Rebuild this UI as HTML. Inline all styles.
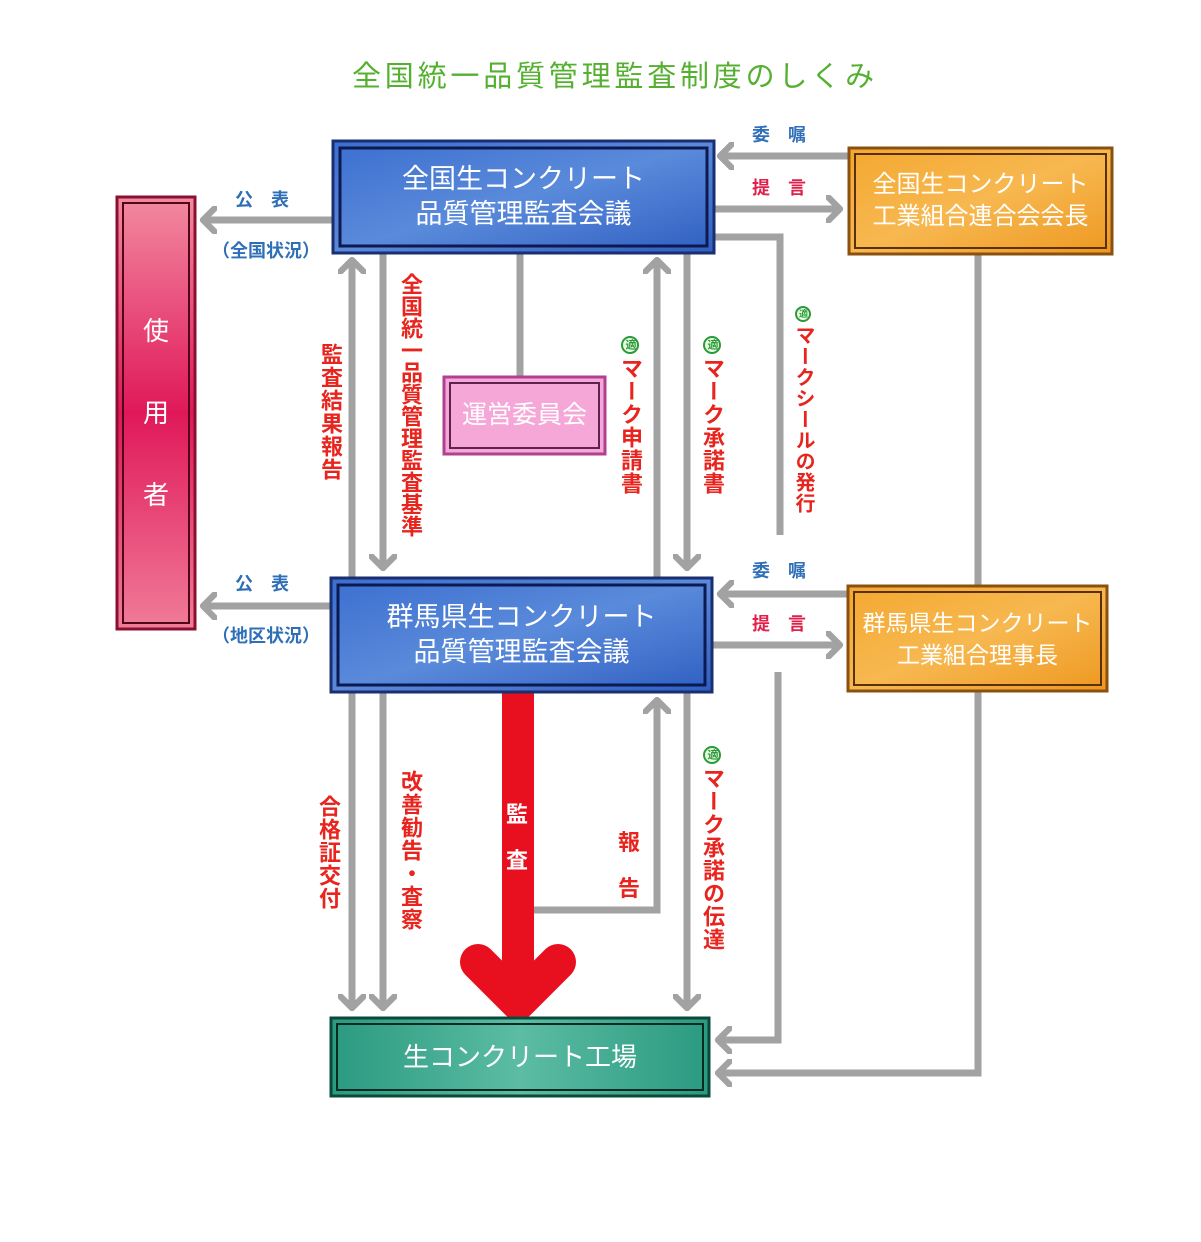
<!DOCTYPE html>
<html><head><meta charset="utf-8"><style>
body{margin:0;width:1201px;height:1242px;background:#fff;position:relative;overflow:hidden;font-family:"Liberation Sans","Noto Sans CJK JP",sans-serif}
.a{position:absolute;white-space:nowrap}
.v{position:absolute;writing-mode:vertical-rl;color:#e8241e;font-weight:bold;font-size:22px;line-height:24px;letter-spacing:1px}
.bl{color:#2f6fb8;font-weight:bold;font-size:18px}
.rd{color:#e0204a;font-weight:bold;font-size:18px}
.box{position:absolute;box-sizing:border-box;color:#fff;text-align:center;display:flex;align-items:center;justify-content:center;flex-direction:column;font-size:27px;line-height:35px}
.tk{display:inline-block;width:18px;height:18px;border-radius:50%;border:2px solid #2a9a3a;color:#2a9a3a;font-size:11px;line-height:14px;text-align:center;box-sizing:border-box;margin-bottom:3px;background:#eafbe0}
</style></head><body>
<div class="a" style="left:352px;top:53px;font-size:29px;color:#55b030;letter-spacing:3.8px">全国統一品質管理監査制度のしくみ</div>

<svg width="1201" height="1242" style="position:absolute;left:0;top:0">
<defs>
<marker id="ah" markerWidth="4" markerHeight="4" refX="2" refY="2" orient="auto" markerUnits="strokeWidth"><path d="M0.3,0.3 L2,2 L0.3,3.7" fill="none" stroke="#a2a2a2" stroke-width="0.9" stroke-linecap="round" stroke-linejoin="round"/></marker>
<linearGradient id="gb" x1="0" y1="0" x2="1" y2="1"><stop offset="0" stop-color="#3b6fd0"/><stop offset="0.5" stop-color="#5a8ada"/><stop offset="1" stop-color="#2f5fc2"/></linearGradient>
<linearGradient id="go" x1="0" y1="0" x2="1" y2="1"><stop offset="0" stop-color="#f4a830"/><stop offset="0.5" stop-color="#f7b850"/><stop offset="1" stop-color="#ee9820"/></linearGradient>
<linearGradient id="gp" x1="0" y1="0" x2="0" y2="1"><stop offset="0" stop-color="#f28aa0"/><stop offset="0.5" stop-color="#e0185a"/><stop offset="1" stop-color="#f07c98"/></linearGradient>
<linearGradient id="gg" x1="0" y1="0" x2="1" y2="0"><stop offset="0" stop-color="#2a9a80"/><stop offset="0.5" stop-color="#5cbca4"/><stop offset="1" stop-color="#2a9a80"/></linearGradient>
</defs>
<g stroke="#a2a2a2" stroke-width="7" fill="none">
<line x1="332" y1="220" x2="203" y2="220" marker-end="url(#ah)"/>
<line x1="330" y1="606" x2="203" y2="606" marker-end="url(#ah)"/>
<line x1="352" y1="577" x2="352" y2="260" marker-end="url(#ah)"/>
<line x1="383" y1="253" x2="383" y2="568" marker-end="url(#ah)"/>
<line x1="520" y1="253" x2="520" y2="376"/>
<line x1="657" y1="577" x2="657" y2="260" marker-end="url(#ah)"/>
<line x1="687" y1="253" x2="687" y2="568" marker-end="url(#ah)"/>
<polyline points="714,237 780,237 780,535"/>
<line x1="848" y1="156" x2="720" y2="156" marker-end="url(#ah)"/>
<line x1="714" y1="209" x2="840" y2="209" marker-end="url(#ah)"/>
<line x1="978" y1="255" x2="978" y2="585"/>
<line x1="847" y1="594" x2="720" y2="594" marker-end="url(#ah)"/>
<line x1="712" y1="645" x2="840" y2="645" marker-end="url(#ah)"/>
<line x1="352" y1="692" x2="352" y2="1008" marker-end="url(#ah)"/>
<line x1="383" y1="692" x2="383" y2="1008" marker-end="url(#ah)"/>
<polyline points="533,910 657,910 657,700" marker-end="url(#ah)"/>
<line x1="687" y1="692" x2="687" y2="1008" marker-end="url(#ah)"/>
<polyline points="778,672 778,1040 718,1040" marker-end="url(#ah)"/>
<polyline points="978,692 978,1073 718,1073" marker-end="url(#ah)"/>
</g>
<rect x="502" y="690" width="32" height="305" fill="#e8101e"/>
<path d="M478,962 L518,1002 L558,962" fill="none" stroke="#e8101e" stroke-width="36" stroke-linecap="round" stroke-linejoin="round"/>
<rect x="333" y="141" width="381" height="112" fill="url(#gb)" stroke="#1a2e70" stroke-width="3"/>
<rect x="340" y="148" width="367" height="98" fill="none" stroke="#0d1a50" stroke-width="3"/>
<rect x="331" y="578" width="381" height="114" fill="url(#gb)" stroke="#1a2e70" stroke-width="3"/>
<rect x="338" y="585" width="367" height="100" fill="none" stroke="#0d1a50" stroke-width="3"/>
<rect x="849" y="148" width="263" height="106" fill="url(#go)" stroke="#8a5010" stroke-width="3"/>
<rect x="855" y="154" width="251" height="94" fill="none" stroke="#5a3008" stroke-width="2"/>
<rect x="848" y="586" width="259" height="105" fill="url(#go)" stroke="#8a5010" stroke-width="3"/>
<rect x="854" y="592" width="247" height="93" fill="none" stroke="#5a3008" stroke-width="2"/>
<rect x="117" y="197" width="78" height="432" fill="url(#gp)" stroke="#8a1030" stroke-width="3"/>
<rect x="123" y="203" width="66" height="420" fill="none" stroke="#500818" stroke-width="2"/>
<rect x="444" y="377" width="161" height="77" fill="#f5a8d8" stroke="#b04090" stroke-width="3"/>
<rect x="450" y="383" width="149" height="65" fill="none" stroke="#602050" stroke-width="2"/>
<rect x="331" y="1018" width="378" height="78" fill="url(#gg)" stroke="#0a4a3a" stroke-width="3"/>
<rect x="337" y="1024" width="366" height="66" fill="none" stroke="#052a20" stroke-width="2"/>
</svg>

<div class="box" style="left:333px;top:141px;width:381px;height:112px">全国生コンクリート<br>品質管理監査会議</div>
<div class="box" style="left:331px;top:578px;width:381px;height:114px">群馬県生コンクリート<br>品質管理監査会議</div>
<div class="box" style="left:849px;top:148px;width:263px;height:106px;font-size:24px;line-height:32px">全国生コンクリート<br>工業組合連合会会長</div>
<div class="box" style="left:848px;top:586px;width:259px;height:105px;font-size:23px;line-height:32px">群馬県生コンクリート<br>工業組合理事長</div>
<div class="box" style="left:117px;top:197px;width:78px;height:432px;font-size:26px;line-height:82px">使<br>用<br>者</div>
<div class="box" style="left:444px;top:377px;width:161px;height:77px;font-size:25px">運営委員会</div>
<div class="box" style="left:331px;top:1018px;width:378px;height:78px;font-size:26px">生コンクリート工場</div>

<div class="a bl" style="left:235px;top:186px">公　表</div>
<div class="a bl" style="left:212px;top:237px;font-size:18px">（全国状況）</div>
<div class="a bl" style="left:235px;top:570px">公　表</div>
<div class="a bl" style="left:212px;top:622px;font-size:18px">（地区状況）</div>
<div class="a bl" style="left:752px;top:121px">委　嘱</div>
<div class="a rd" style="left:752px;top:174px">提　言</div>
<div class="a bl" style="left:752px;top:557px">委　嘱</div>
<div class="a rd" style="left:752px;top:610px">提　言</div>

<div class="v" style="left:318px;top:343px">監査結果報告</div>
<div class="v" style="left:398px;top:273px;letter-spacing:0">全国統一品質管理監査基準</div>
<div class="v" style="left:618px;top:336px"><span class="tk">適</span>マーク申請書</div>
<div class="v" style="left:700px;top:336px"><span class="tk">適</span>マーク承諾書</div>
<div class="v" style="left:792px;top:306px;font-size:20px;line-height:22px"><span class="tk" style="width:16px;height:16px;line-height:12px;font-size:9px">適</span>マークシールの発行</div>
<div class="v" style="left:316px;top:795px">合格証交付</div>
<div class="v" style="left:398px;top:770px">改善勧告・査察</div>
<div class="a" style="left:506px;top:792px;color:#fff;font-weight:bold;font-size:22px;line-height:46px">監<br>査</div>
<div class="a" style="left:618px;top:820px;color:#e8241e;font-weight:bold;font-size:22px;line-height:46px">報<br>告</div>
<div class="v" style="left:700px;top:746px"><span class="tk">適</span>マーク承諾の伝達</div>
</body></html>
